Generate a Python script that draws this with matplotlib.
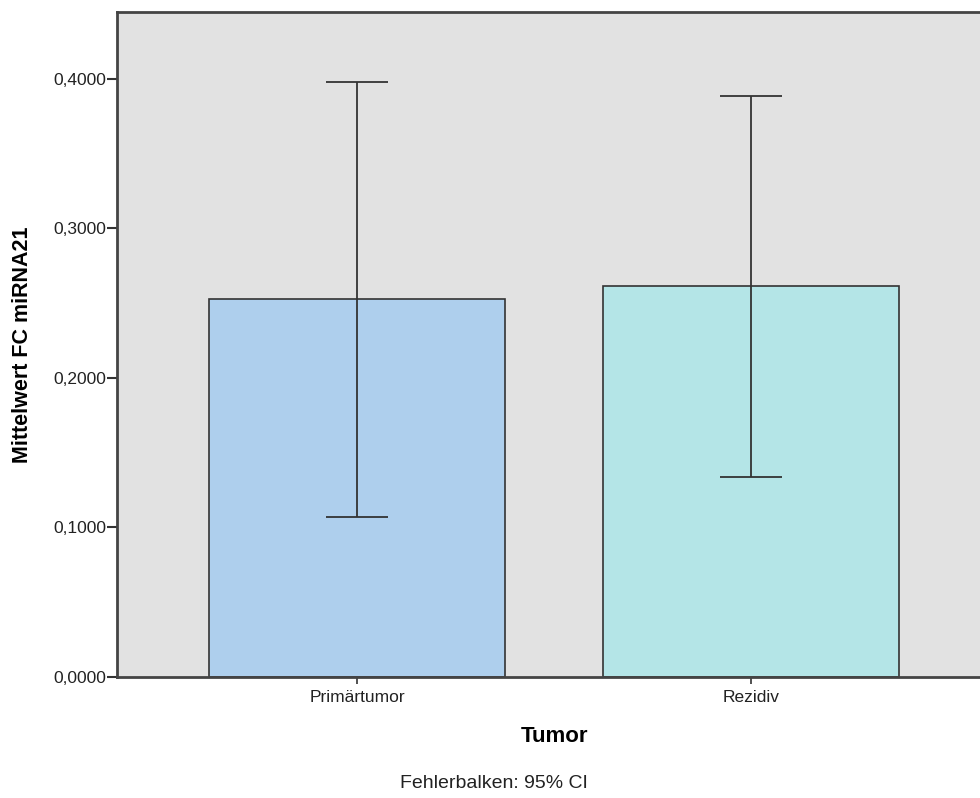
import matplotlib
matplotlib.use("Agg")
import matplotlib.pyplot as plt
import numpy as np

plt.rcParams['font.family'] = ['Liberation Sans', 'DejaVu Sans']

categories = ["Primärtumor", "Rezidiv"]
means = [0.2525, 0.2614]
ci_lower = [0.1070, 0.1337]
ci_upper = [0.3975, 0.3884]
bar_colors = ["#AECFED", "#B4E5E7"]
y_ticks = [0.0, 0.1, 0.2, 0.3, 0.4]
y_tick_labels = ["0,0000", "0,1000", "0,2000", "0,3000", "0,4000"]

fig = plt.figure(figsize=(9.8, 7.98), dpi=100)
ax = fig.add_axes([117/980, 121/798, (991-117)/980, 665/798])
ax.set_facecolor("#E2E2E2")

x = np.arange(len(categories))
means_arr = np.array(means)
yerr = np.vstack([means_arr - np.array(ci_lower), np.array(ci_upper) - means_arr])

ax.bar(x, means, width=0.751, color=bar_colors, edgecolor="#333333", linewidth=1.2, zorder=2)
ax.errorbar(x, means, yerr=yerr, fmt="none", ecolor="#333333", elinewidth=1.3,
            capsize=22, capthick=1.3, zorder=3)

ax.set_xlim(-0.609, 1.609)
ax.set_ylim(0, 0.4445)

ax.set_yticks(y_ticks)
ax.set_yticklabels(y_tick_labels)
ax.set_xticks(x)
ax.set_xticklabels(categories)

for side in ["left", "bottom", "top"]:
    ax.spines[side].set_color("#444444")
    ax.spines[side].set_linewidth(2)
ax.spines["right"].set_visible(False)

ax.tick_params(axis="y", direction="out", length=7, width=1.5, color="#333333",
               labelsize=12.5, labelcolor="#222222", pad=1)
ax.tick_params(axis="x", direction="out", length=5, width=1.2, color="#333333",
               labelsize=12.5, labelcolor="#222222", pad=4)

ax.set_ylabel("Mittelwert FC miRNA21", fontsize=15.5, fontweight="bold", va="center")
ax.yaxis.set_label_coords(-0.108, 0.5)
ax.set_xlabel("Tumor", fontsize=16, fontweight="bold", va="center")
ax.xaxis.set_label_coords(0.5, (677 - 736) / 665)

fig.text(494/980, 1 - 784/798, "Fehlerbalken: 95% CI", ha="center", va="center",
         fontsize=14, color="#222222")

fig.savefig("out.png", dpi=100)
